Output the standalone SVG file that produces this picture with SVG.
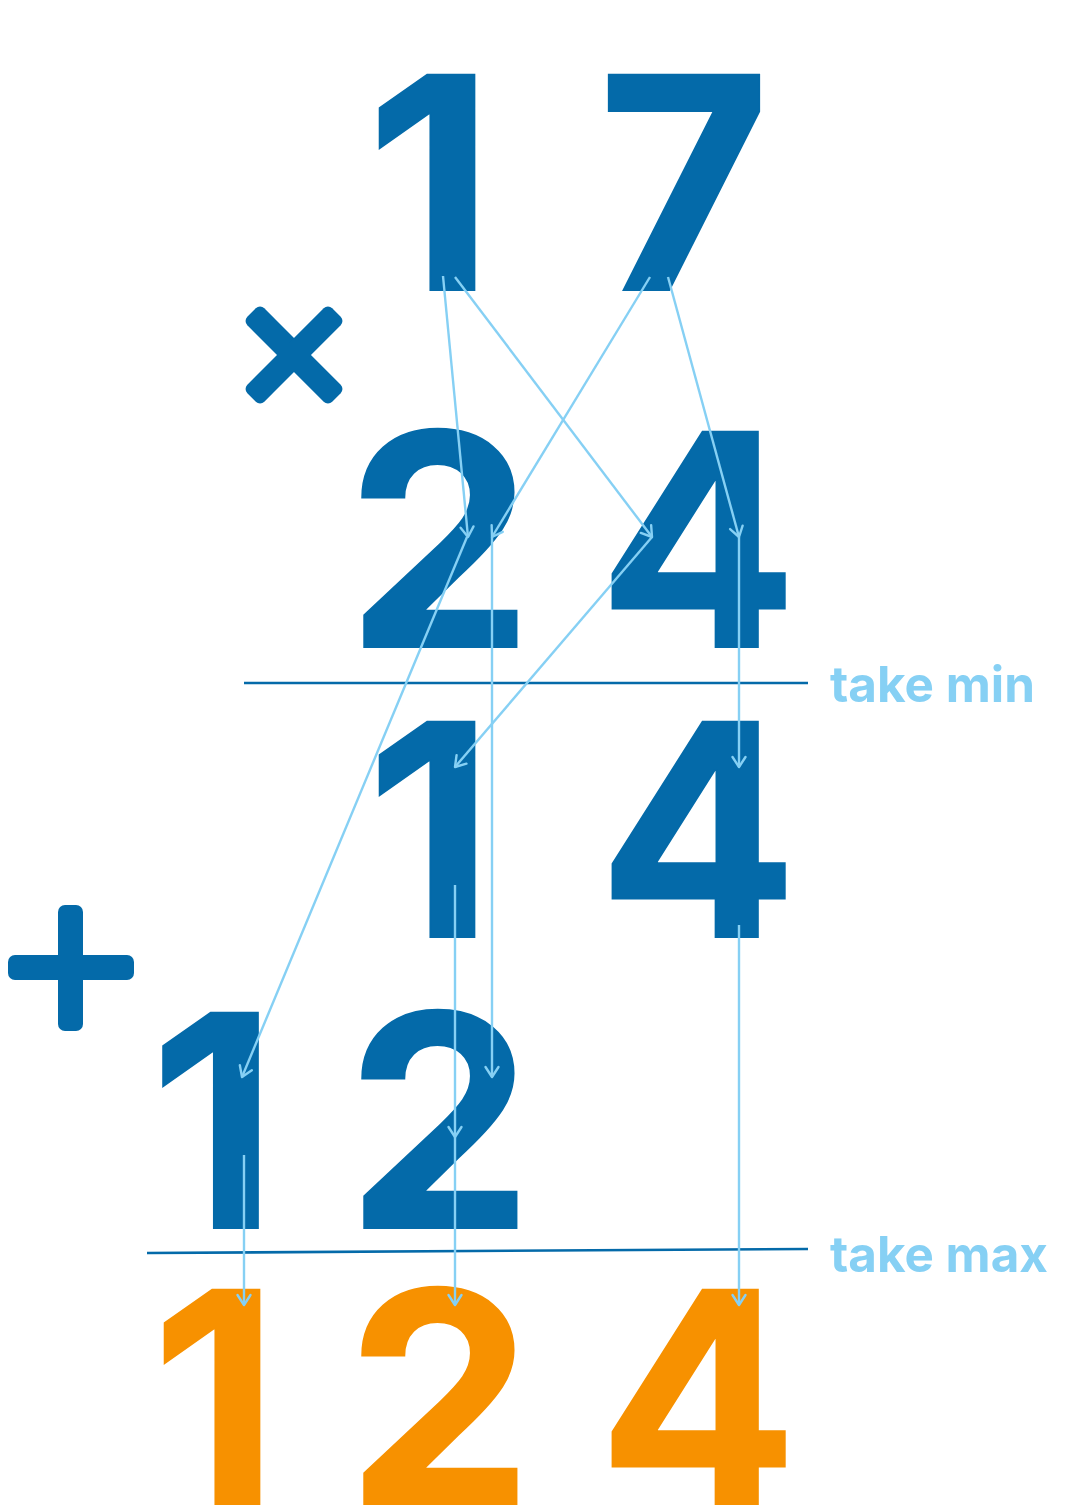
<svg xmlns="http://www.w3.org/2000/svg" width="1065" height="1505" viewBox="0 0 1065 1505">
<defs>
<style>
.d{font-family:Inter,"Noto Sans",sans-serif;font-weight:700;font-size:296px;text-anchor:middle;stroke-width:1.8;stroke-linejoin:miter}
.b{fill:#046aa9}
.d.b{stroke:#046aa9}
.o{fill:#f79100;stroke:#f79100}
.lab{font-family:Inter,"Noto Sans",sans-serif;font-weight:700;font-size:50px;fill:#86d0f4}
.c{stroke:#86d0f4;stroke-width:2.4;fill:none;marker-end:url(#ah)}
.rule{stroke:#046aa9;stroke-width:2.6;fill:none}
</style>
<marker id="ah" markerUnits="userSpaceOnUse" markerWidth="20" markerHeight="20" refX="0" refY="0" viewBox="-12 -10 14 20" orient="auto" overflow="visible">
<path d="M-10,-6.5 L0,0 L-10,6.5" fill="none" stroke="#86d0f4" stroke-width="2.4" stroke-linecap="round" stroke-linejoin="round"/>
</marker>
</defs>
<g id="row1">
<text class="d b" x="430" y="290">1</text>
<text class="d b" x="684" y="290">7</text>
</g>
<g id="times"><rect x="234" y="343" width="120" height="24" rx="6" transform="rotate(45 294 355)" class="b"/><rect x="234" y="343" width="120" height="24" rx="6" transform="rotate(-45 294 355)" class="b"/></g>
<g id="row2">
<text class="d b" x="439.5" y="647">2</text>
<text class="d b" x="698" y="647">4</text>
</g>
<g id="minline"><line class="rule" x1="244" y1="683" x2="808" y2="683"/><text class="lab" x="830" y="702" textLength="205" lengthAdjust="spacingAndGlyphs">take min</text></g>
<g id="row3">
<text class="d b" x="430" y="937">1</text>
<text class="d b" x="698" y="937">4</text>
</g>
<g id="plus"><rect x="58" y="905" width="25" height="126" rx="7" class="b"/><rect x="8" y="955" width="126" height="25" rx="7" class="b"/></g>
<g id="row4">
<text class="d b" x="213.5" y="1228">1</text>
<text class="d b" x="439.5" y="1228">2</text>
</g>
<g id="maxline"><line class="rule" x1="147" y1="1253" x2="808" y2="1249"/><text class="lab" x="830" y="1272" textLength="218" lengthAdjust="spacingAndGlyphs">take max</text></g>
<g id="result">
<text class="d o" x="215" y="1505">1</text>
<text class="d o" x="439.5" y="1505">2</text>
<text class="d o" x="698" y="1505">4</text>
</g>
<g id="connectors">
<line class="c" x1="443" y1="276" x2="468" y2="537"/>
<line class="c" x1="455" y1="277" x2="652" y2="537"/>
<line class="c" x1="650" y1="277" x2="492" y2="537"/>
<line class="c" x1="668" y1="277" x2="739" y2="537"/>
<line class="c" x1="467" y1="537" x2="242" y2="1077"/>
<line class="c" x1="492" y1="537" x2="492" y2="1077"/>
<line class="c" x1="652" y1="537" x2="455" y2="767"/>
<line class="c" x1="739" y1="537" x2="739" y2="767"/>
<line class="c" x1="455" y1="885" x2="455" y2="1137"/>
<line class="c" x1="455" y1="1137" x2="455" y2="1305"/>
<line class="c" x1="244" y1="1155" x2="244" y2="1305"/>
<line class="c" x1="739" y1="925" x2="739" y2="1305"/>
</g>
</svg>
